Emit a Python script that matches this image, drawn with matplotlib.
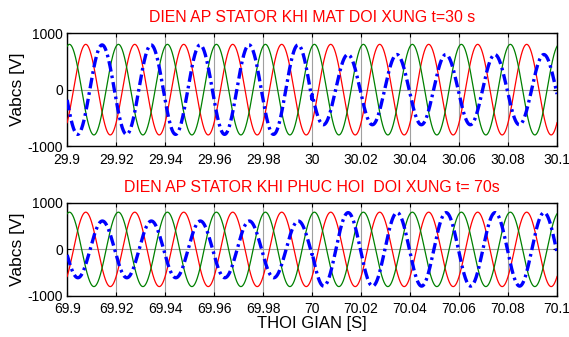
import numpy as np
import matplotlib
matplotlib.use('Agg')
import matplotlib.pyplot as plt
from matplotlib.ticker import FuncFormatter

plt.rcParams['font.family'] = ['Liberation Sans', 'DejaVu Sans']
plt.rcParams['axes.unicode_minus'] = False

# waveform parameters
freq = 50.0                      # Hz
red_peak_t = 0.0076              # time of a red peak inside one cycle [s]
amp_red = 800.0
amp_green = 800.0
green_lead = 120.0               # deg, green leads red
# blue phase: [before event, after event]
blue_amp_top = [790.0, 620.0]
blue_lag_top = [120.0, 126.0]    # deg, blue lags red
blue_amp_bot = [610.0, 790.0]
blue_lag_bot = [122.0, 128.0]

t_event_top = 30.0
t_event_bot = 70.0
xlim_top = [29.9, 30.1]
xlim_bot = [69.9, 70.1]
xticks_top = [29.9, 29.92, 29.94, 29.96, 29.98, 30.0, 30.02, 30.04, 30.06, 30.08, 30.1]
xticks_bot = [69.9, 69.92, 69.94, 69.96, 69.98, 70.0, 70.02, 70.04, 70.06, 70.08, 70.1]
yticks = [-1000, 0, 1000]
titles = ['DIEN AP STATOR KHI MAT DOI XUNG t=30 s',
          'DIEN AP STATOR KHI PHUC HOI  DOI XUNG t= 70s']


def phases(t, t_ev, b_amp, b_lag):
    w = 2 * np.pi * freq
    th = w * (t - red_peak_t)
    red = amp_red * np.cos(th)
    green = amp_green * np.cos(th + np.deg2rad(green_lead))
    after = t >= t_ev
    amp = np.where(after, b_amp[1], b_amp[0])
    lag = np.deg2rad(np.where(after, b_lag[1], b_lag[0]))
    blue = amp * np.cos(th - lag)
    return red, green, blue


fig = plt.figure(figsize=(5.69, 3.37), dpi=100)
ax1 = fig.add_axes([0.118, 0.566, 0.861, 0.336])
ax2 = fig.add_axes([0.118, 0.122, 0.861, 0.276])

fmt = FuncFormatter(lambda v, p: '%g' % round(v, 4))

for ax, xl, xt, t_ev, ba, bl, ttl in [
        (ax1, xlim_top, xticks_top, t_event_top, blue_amp_top, blue_lag_top, titles[0]),
        (ax2, xlim_bot, xticks_bot, t_event_bot, blue_amp_bot, blue_lag_bot, titles[1])]:
    t = np.linspace(xl[0], xl[1], 4000)
    r, g, b = phases(t, t_ev, ba, bl)
    ax.plot(t, r, color='red', lw=0.9, zorder=3)
    ax.plot(t, g, color='#008000', lw=0.9, zorder=3)
    ax.plot(t, b, color='blue', lw=2.4, ls=(0, (3.2, 1.2, 0.8, 1.2)), zorder=4)
    ax.set_xlim(xl)
    ax.set_ylim(-1000, 1000)
    ax.set_xticks(xt)
    ax.set_yticks(yticks)
    ax.xaxis.set_major_formatter(fmt)
    ax.grid(True, color='#a0a0a0', lw=0.8)
    ax.tick_params(direction='in', top=True, right=True, labelsize=10, length=3, pad=3)
    ax.tick_params(axis='x', pad=4.5)
    ax.set_ylabel('Vabcs [V]', fontsize=12.5, labelpad=2)
    ax.set_title(ttl, color='red', fontsize=11.4, pad=8)
    for s in ax.spines.values():
        s.set_linewidth(1.0)

ax2.set_xlabel('THOI GIAN [S]', fontsize=12, labelpad=0)

fig.savefig('out.png', dpi=100)
